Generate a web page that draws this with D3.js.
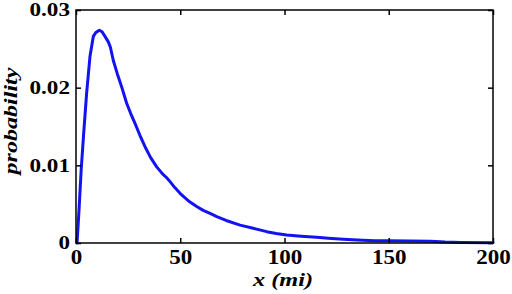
<!DOCTYPE html>
<html><head><meta charset="utf-8">
<script src="https://cdn.jsdelivr.net/npm/d3@7"></script>
<style>body{margin:0;background:#fff}svg{display:block}</style>
</head><body>
<svg id="c" width="512" height="294"></svg>
<script>
const xMiles = [0.5, 1.5, 2.5, 3.6, 5.1, 6.7, 8.3, 9.5, 11.2, 12.5, 13.9, 15.5, 16.5, 17.9, 19.8, 21.9, 24.3, 26.2, 28.3, 30.6, 33.1, 35.8, 38.7, 41.5, 43.5, 45.1, 47.5, 49.9, 51.5, 54.5, 57.9, 61, 64.3, 67.5, 72, 78.7, 85, 91.5, 96, 101, 108, 115.4, 121, 128.2, 135, 143, 150, 160, 170, 177, 185, 200];
const probability = [0, 0.0045, 0.0095, 0.0138, 0.0193, 0.0240, 0.0266, 0.0271, 0.0274, 0.0272, 0.0266, 0.0259, 0.0252, 0.0235, 0.0218, 0.0201, 0.0180, 0.0167, 0.0154, 0.0139, 0.0124, 0.0110, 0.0098, 0.0089, 0.0084, 0.0079, 0.0071, 0.0064, 0.0060, 0.0053, 0.0047, 0.0042, 0.0038, 0.0034, 0.0029, 0.0023, 0.0019, 0.00146, 0.00122, 0.00103, 0.00088, 0.00073, 0.00060, 0.00047, 0.00038, 0.00030, 0.00028, 0.00025, 0.00022, 0.00013, 0.00008, 0.00004];
const xTicks = [0, 50, 100, 150, 200];
const yTicks = [0, 0.01, 0.02, 0.03];
const yTickLabels = ["0", "0.01", "0.02", "0.03"];

const svg = d3.select("#c");
const L = 76, R = 493, T = 10, B = 243;
const x = d3.scaleLinear().domain([0, 200]).range([L, R]);
const y = d3.scaleLinear().domain([0, 0.03]).range([B, T]);
const FONT = '"Liberation Serif"';
const widthOf = s => s.replace(/\./g, "").length * 11.5 + (s.split(".").length - 1) * 6;

// curve
svg.append("path")
  .datum(xMiles.map((v, i) => [v, probability[i]]))
  .attr("fill", "none").attr("stroke", "#1212f2").attr("stroke-width", 3)
  .attr("stroke-linejoin", "round").attr("stroke-linecap", "round")
  .attr("d", d3.line().x(d => x(d[0])).y(d => y(d[1])));

function styleAxis(g) {
  g.attr("font-family", null);
  g.select(".domain").remove();
  g.selectAll(".tick line").attr("stroke", "#000").attr("stroke-width", 1.5);
}
function styleLabels(g, size) {
  g.selectAll("text")
    .style("font-family", FONT).style("font-weight", "bold").style("font-size", size + "px").style("fill", "#000")
    .attr("textLength", function () { return widthOf(this.textContent); })
    .attr("lengthAdjust", "spacingAndGlyphs");
}
svg.append("g").attr("transform", `translate(0,${B})`)
  .call(d3.axisBottom(x).tickValues(xTicks).tickSizeInner(-5).tickSizeOuter(0).tickPadding(7).tickFormat(d3.format("d")))
  .call(styleAxis)
  .call(g => styleLabels(g, 20));
svg.append("g").attr("transform", `translate(0,${T})`)
  .call(d3.axisTop(x).tickValues(xTicks).tickSizeInner(-5).tickSizeOuter(0).tickFormat(""))
  .call(styleAxis);
svg.append("g").attr("transform", `translate(${L},0)`)
  .call(d3.axisLeft(y).tickValues(yTicks).tickSizeInner(-5).tickSizeOuter(0).tickPadding(6).tickFormat((d, i) => yTickLabels[i]))
  .call(styleAxis)
  .call(g => styleLabels(g, 18));
svg.append("g").attr("transform", `translate(${R},0)`)
  .call(d3.axisRight(y).tickValues(yTicks).tickSizeInner(-5).tickSizeOuter(0).tickFormat(""))
  .call(styleAxis);

// frame
svg.append("rect").attr("x", L).attr("y", T).attr("width", R - L).attr("height", B - T)
  .attr("fill", "none").attr("stroke", "#000").attr("stroke-width", 1.5);

// labels
svg.append("text").attr("x", 283).attr("y", 286).attr("text-anchor", "middle")
  .style("font-family", FONT).style("font-weight", "bold").style("font-style", "italic").style("font-size", "18px")
  .attr("textLength", 60).attr("lengthAdjust", "spacingAndGlyphs")
  .text("x (mi)");
svg.append("text").attr("transform", "translate(17,121) rotate(-90)").attr("text-anchor", "middle")
  .style("font-family", FONT).style("font-weight", "bold").style("font-style", "italic").style("font-size", "19px")
  .attr("textLength", 107).attr("lengthAdjust", "spacingAndGlyphs")
  .text("probability");
</script>
</body></html>
